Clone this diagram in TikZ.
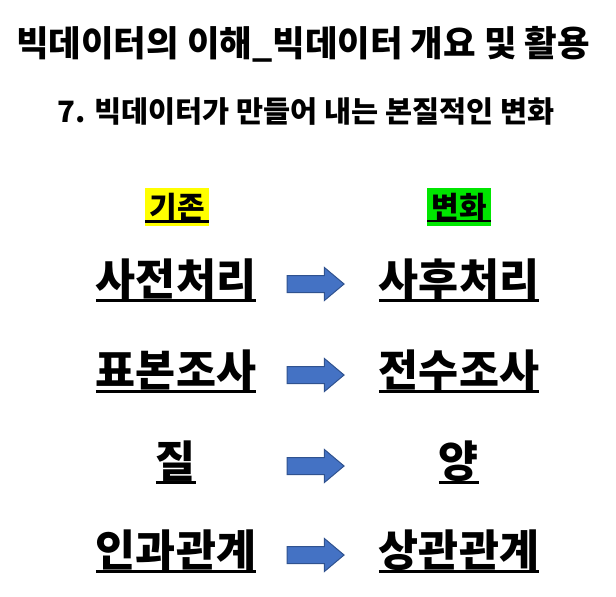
\documentclass[tikz,border=0pt]{standalone}
\usepackage{fontspec}
\setmainfont{Noto Sans CJK KR}
\usetikzlibrary{shapes.arrows,positioning}

\definecolor{hlyellow}{RGB}{255,255,0}
\definecolor{hlgreen}{RGB}{0,230,0}
\definecolor{arrowfill}{HTML}{4472C4}
\definecolor{arrowline}{HTML}{2F528F}

\begin{document}
\begin{tikzpicture}[x=1pt, y=-1pt,
  titletext/.style={font=\fontsize{35.4}{38}\selectfont\bfseries, inner sep=0pt},
  subtext/.style={font=\fontsize{29.4}{32}\selectfont\bfseries, inner sep=0pt},
  headtext/.style={font=\fontsize{30}{33}\selectfont\bfseries, inner xsep=4pt,
    inner ysep=0pt, minimum height=38pt},
  rowtext/.style={font=\fontsize{43.5}{47}\selectfont\bfseries, inner sep=0pt},
  blockarrow/.style={single arrow, draw=arrowline, fill=arrowfill, line width=1pt,
    inner xsep=0pt, inner ysep=8pt, single arrow head extend=8pt,
    single arrow tip angle=80, minimum height=57pt},
  uline/.style={line width=2.5pt}]
  \useasboundingbox (0,0) rectangle (616,597);

  %% Titles
  \node[titletext] (title) at (303,44) {빅데이터의 이해\_빅데이터 개요 및 활용};
  \node[subtext] (subtitle) at (306,112) {7. 빅데이터가 만들어 내는 본질적인 변화};

  %% Column heads (highlighted)
  \node[headtext, fill=hlyellow] (old) at (177,207) {기존};
  \node[headtext, fill=hlgreen] (new) at (459,207) {변화};

  %% Rows: before -> after
  \foreach \i/\y/\a/\b in {1/279/사전처리/사후처리, 2/370/표본조사/전수조사,
                           3/461/질/양, 4/550/인과관계/상관관계}{
    \node[rowtext] (old\i) at (176,\y) {\a};
    \node[rowtext] (new\i) at (459,\y) {\b};
    \path (old\i) -- node[blockarrow, xshift=-7pt, yshift=-5pt] (arr\i) {} (new\i);
  }

  %% Underlines
  \foreach \n/\d in {old/3, new/3, old1/5, new1/5, old2/5, new2/5,
                     old3/5, new3/5, old4/5, new4/5}{
    \draw[uline] ([yshift=-\d pt]\n.base west) -- ([yshift=-\d pt]\n.base east);
  }
\end{tikzpicture}
\end{document}
